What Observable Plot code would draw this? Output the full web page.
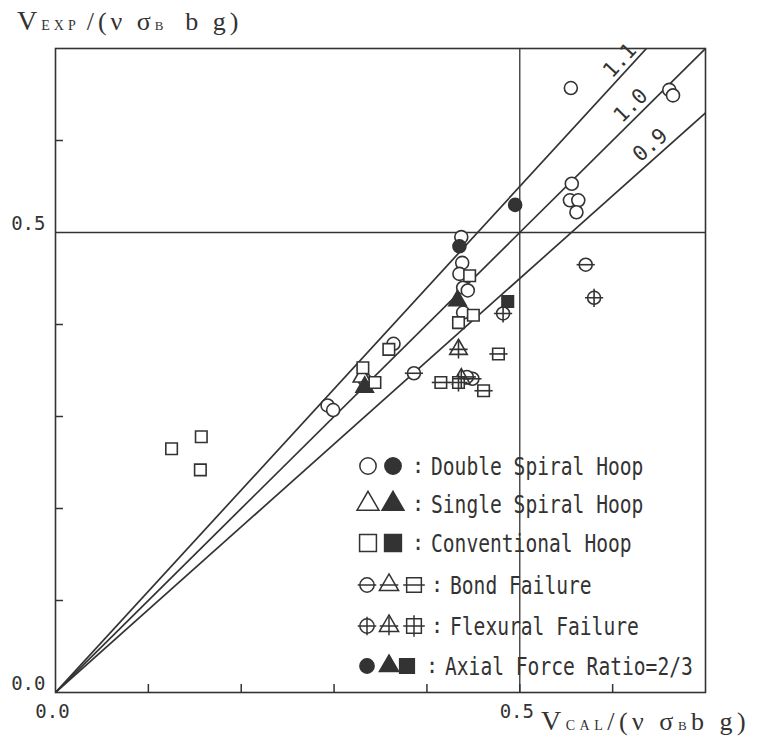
<!DOCTYPE html>
<html><head><meta charset="utf-8">
<script src="https://cdn.jsdelivr.net/npm/d3@7"></script>
<script src="https://cdn.jsdelivr.net/npm/@observablehq/plot@0.6"></script>
<style>body{margin:0;background:#fff}</style>
</head><body><div id="chart"></div>
<script>
// ---- data ----
const ratios = [1.1, 1.0, 0.9];
const xTickValues = [0.1, 0.2, 0.3, 0.4, 0.5, 0.6];
const yTickValues = [0.1, 0.2, 0.3, 0.4, 0.6];
const labelTicks = [0.0, 0.5];

// Double spiral hoop (circle)
const doubleOpen = [[0.555,0.657],[0.661,0.655],[0.665,0.649],[0.556,0.553],[0.554,0.535],[0.563,0.535],[0.561,0.522],
  [0.437,0.495],[0.438,0.467],[0.435,0.455],[0.439,0.440],[0.444,0.437],[0.439,0.413],[0.364,0.379],[0.333,0.340],[0.293,0.312],[0.299,0.307]];
const doubleBond = [[0.571,0.465],[0.386,0.347],[0.449,0.341],[0.443,0.343]];
const doubleFlex = [[0.580,0.429],[0.482,0.412]];
const doubleAxial = [[0.495,0.530],[0.435,0.485]];
// Single spiral hoop (triangle)
const singleOpen = [[0.330,0.343]];
const singleFlex = [[0.434,0.373],[0.437,0.341]];
const singleAxial = [[0.433,0.426],[0.333,0.332]];
// Conventional hoop (square)
const convOpen = [[0.446,0.453],[0.450,0.410],[0.434,0.402],[0.359,0.373],[0.331,0.353],[0.344,0.337],[0.157,0.278],[0.125,0.265],[0.156,0.242]];
const convBond = [[0.477,0.368],[0.415,0.337],[0.461,0.328]];
const convFlex = [[0.434,0.337]];
const convAxial = [[0.487,0.425]];

const legendLabels = ["Double Spiral Hoop","Single Spiral Hoop","Conventional Hoop","Bond Failure","Flexural Failure","Axial Force Ratio=2/3"];

// ---- build table ----
const ink = "#333";
function rows(arr, hoop, fail, axial){ return arr.map(([x,y]) => ({x, y, hoop, fail, axial})); }
const pts = [
  ...rows(doubleOpen,"circle",null,false), ...rows(doubleBond,"circle","bond",false),
  ...rows(doubleFlex,"circle","flex",false), ...rows(doubleAxial,"circle",null,true),
  ...rows(singleOpen,"triangle",null,false), ...rows(singleFlex,"triangle","flex",false),
  ...rows(singleAxial,"triangle",null,true),
  ...rows(convOpen,"square",null,false), ...rows(convBond,"square","bond",false),
  ...rows(convFlex,"square","flex",false), ...rows(convAxial,"square",null,true)
];
const barH = {draw(ctx, size){const r = Math.sqrt(size/Math.PI)*1.4; ctx.moveTo(-r,0); ctx.lineTo(r,0);}};
const cross = {draw(ctx, size){const r = Math.sqrt(size/Math.PI)*1.4; ctx.moveTo(-r,0); ctx.lineTo(r,0); ctx.moveTo(0,-r); ctx.lineTo(0,r);}};

const W = 760, H = 737, mL = 55, mR = 55, mT = 48, mB = 45;
const innerW = W - mL - mR, innerH = H - mT - mB;
const aspect = (innerH/0.7)/(innerW/0.7);
const labelFrac = {1.1: 0.955, 1.0: 0.885, 0.9: 0.915};
const labelX = k => Math.min(0.7, 0.7/k) * labelFrac[k];

const plot = Plot.plot({
  width: W, height: H, marginLeft: mL, marginRight: mR, marginTop: mT, marginBottom: mB,
  x: {domain: [0, 0.7]}, y: {domain: [0, 0.7]},
  style: {fontFamily: "DejaVu Sans Mono", color: ink, background: "#fff"},
  marks: [
    Plot.ruleX([0.5], {stroke: ink, strokeWidth: 1.3}),
    Plot.ruleY([0.5], {stroke: ink, strokeWidth: 1.3}),
    Plot.tickX(xTickValues, {x: d => d, insetTop: innerH - 8, stroke: ink, strokeWidth: 1.5}),
    Plot.tickY(yTickValues, {y: d => d, insetRight: innerW - 8, stroke: ink, strokeWidth: 1.5}),
    Plot.link(ratios, {x1: 0, y1: 0, x2: 0.7, y2: d => 0.7*d, clip: true, stroke: ink, strokeWidth: 1.7}),
    Plot.text(ratios, {x: d => labelX(d), y: d => labelX(d)*d, text: d => d.toFixed(1),
      rotate: d => -Math.atan(d*aspect)*180/Math.PI, dy: -17, fontSize: 21, fill: ink, fontFamily: "DejaVu Sans Mono"}),
    Plot.dot(pts, {x: "x", y: "y", symbol: "hoop", r: 6.5, fill: d => d.axial ? ink : "white", stroke: ink, strokeWidth: 1.6}),
    Plot.dot(pts.filter(d => d.fail === "bond"), {x: "x", y: "y", symbol: barH, r: 6.5, fill: "none", stroke: ink, strokeWidth: 1.6}),
    Plot.dot(pts.filter(d => d.fail === "flex"), {x: "x", y: "y", symbol: cross, r: 6.5, fill: "none", stroke: ink, strokeWidth: 1.6}),
    Plot.axisX(labelTicks, {tickSize: 0, tickPadding: 12, dx: -3, tickFormat: d3.format(".1f"), fontSize: 19, label: null, fill: ink}),
    Plot.axisY(labelTicks, {tickSize: 0, tickPadding: 10, dy: -9, tickFormat: d3.format(".1f"), fontSize: 19, label: null, fill: ink}),
    Plot.frame({stroke: ink, strokeWidth: 1.6})
  ]
});
document.getElementById("chart").appendChild(plot);

// ---- axis titles ----
const svg = d3.select(plot);
function title(x, y, parts, spacing){
  const t = svg.append("text").attr("x", x).attr("y", y).attr("fill", ink).attr("text-anchor", "start")
    .style("font-family", "'Liberation Serif', 'DejaVu Serif', serif").style("letter-spacing", spacing + "px");
  parts.forEach(p => t.append("tspan").text(p[0]).style("font-size", p[1] + "px"));
}
title(17, 30, [["V",28],["EXP ",14],["/(ν σ",26],["B ",13],[" b g)",26]], 4);
title(541, 730, [["V",28],["CAL",14],["/(ν σ",26],["B",13],["b g)",26]], 4.5);

// ---- legend ----
const legendSymbols = [
  [["circle",false,null],["circle",true,null]],
  [["triangle",false,null],["triangle",true,null]],
  [["square",false,null],["square",true,null]],
  [["circle",false,"bond"],["triangle",false,"bond"],["square",false,"bond"]],
  [["circle",false,"flex"],["triangle",false,"flex"],["square",false,"flex"]],
  [["circle",true,null],["triangle",true,null],["square",true,null]]
];
const symMap = {circle: d3.symbolCircle, triangle: d3.symbolTriangle, square: d3.symbolSquare};
const lg = svg.append("g").attr("text-anchor", "start");
const rowY = [466, 504, 543, 585, 626, 666];
legendSymbols.forEach((syms, i) => {
  const y = rowY[i];
  const big = syms.length === 2;
  const xs = big ? [368, 393] : (i === 5 ? [367, 389, 407] : [367, 389, 414]);
  syms.forEach(([s, filled, fail], j) => {
    const size = (big ? 210 : 160) * (s === "square" ? 1.35 : 1);
    const g = lg.append("g").attr("transform", `translate(${xs[j]},${y})`);
    g.append("path").attr("d", d3.symbol(symMap[s], size)()).attr("fill", filled ? ink : "white").attr("stroke", ink).attr("stroke-width", 1.5);
    if (fail) {
      const r = Math.sqrt(size/Math.PI)*1.3;
      let d = `M${-r},0L${r},0`;
      if (fail === "flex") d += `M0,${-r}L0,${r}`;
      g.append("path").attr("d", d).attr("stroke", ink).attr("stroke-width", 1.5).attr("fill", "none");
    }
  });
  const colonX = i >= 3 ? (i === 5 ? 432 : 437) : 418;
  const textX = colonX + 13;
  lg.append("text").attr("x", colonX).attr("y", y + 7).text(":").attr("text-anchor", "middle")
    .attr("fill", ink).style("font-family", "DejaVu Sans Mono").style("font-size", "21px");
  const label = legendLabels[i];
  lg.append("text").attr("x", textX).attr("y", y + 9).text(label).attr("text-anchor", "start")
    .attr("fill", ink).style("font-family", "DejaVu Sans Mono").style("font-size", "24px")
    .attr("textLength", label.length * 11.8).attr("lengthAdjust", "spacingAndGlyphs");
});
</script>
</body></html>
